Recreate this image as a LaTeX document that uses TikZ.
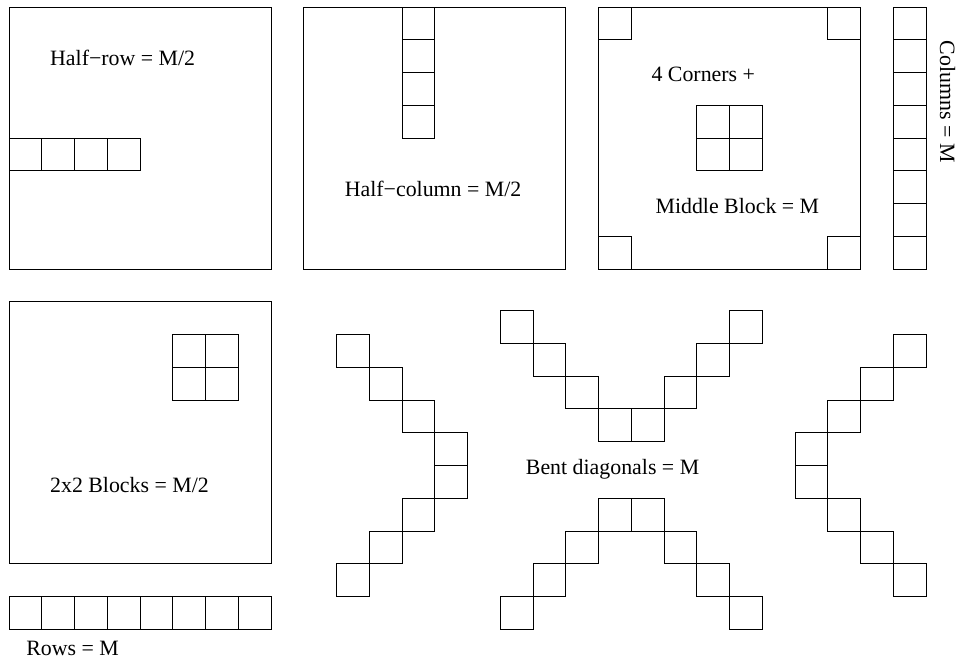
\documentclass[tikz,border=0pt]{standalone}
\usepackage{fontspec}
\setmainfont{Liberation Serif}

\begin{document}
\begin{tikzpicture}[x=0.5cm, y=-0.5cm, line width=0.4pt,
   lbl/.style={font=\fontsize{9.5}{11}\selectfont, anchor=base, inner sep=0pt}]
\useasboundingbox (-0.2748,-0.2137) rectangle (29.1298,20.2137);

% the four big squares
\foreach \x/\y in {0/0, 9/0, 18/0, 0/9}
   \draw (\x,\y) rectangle ++(8,8);

% half-row, half-column
\foreach \i in {0,...,3} {
   \draw (\i,4) rectangle ++(1,1);
   \draw (12,\i) rectangle ++(1,1);
}

% corners, middle block and 2x2 block
\foreach \x/\y in {18/0, 25/0, 18/7, 25/7, 21/3, 22/3, 21/4, 22/4, 5/10, 6/10, 5/11, 6/11}
   \draw (\x,\y) rectangle ++(1,1);

% full column and full row
\foreach \i in {0,...,7} {
   \draw (27,\i) rectangle ++(1,1);
   \draw (\i,18) rectangle ++(1,1);
}

% bent diagonals
\foreach \i in {0,...,3} {
   \draw (10+\i,10+\i) rectangle ++(1,1);
   \draw (10+\i,17-\i) rectangle ++(1,1);
   \draw (15+\i,9.27+\i) rectangle ++(1,1);
   \draw (22-\i,9.27+\i) rectangle ++(1,1);
   \draw (15+\i,18-\i) rectangle ++(1,1);
   \draw (22-\i,18-\i) rectangle ++(1,1);
   \draw (27-\i,10+\i) rectangle ++(1,1);
   \draw (27-\i,17-\i) rectangle ++(1,1);
}

\node[lbl] (halfrow) at (3.47,1.80) {Half−row = M/2};
\node[lbl] (halfcol) at (12.95,5.79) {Half−column = M/2};
\node[lbl] (corners) at (21.2,2.28) {4 Corners +};
\node[lbl] (middle) at (22.24,6.30) {Middle Block = M};
\node[lbl, anchor=center, rotate=-90] (columns) at (28.66,2.89) {Columns = M};
\node[lbl] (blocks) at (3.68,14.82) {2x2 Blocks = M/2};
\node[lbl] (rows) at (1.94,19.79) {Rows = M};
\node[lbl] (bent) at (18.43,14.29) {Bent diagonals = M};
\end{tikzpicture}
\end{document}
